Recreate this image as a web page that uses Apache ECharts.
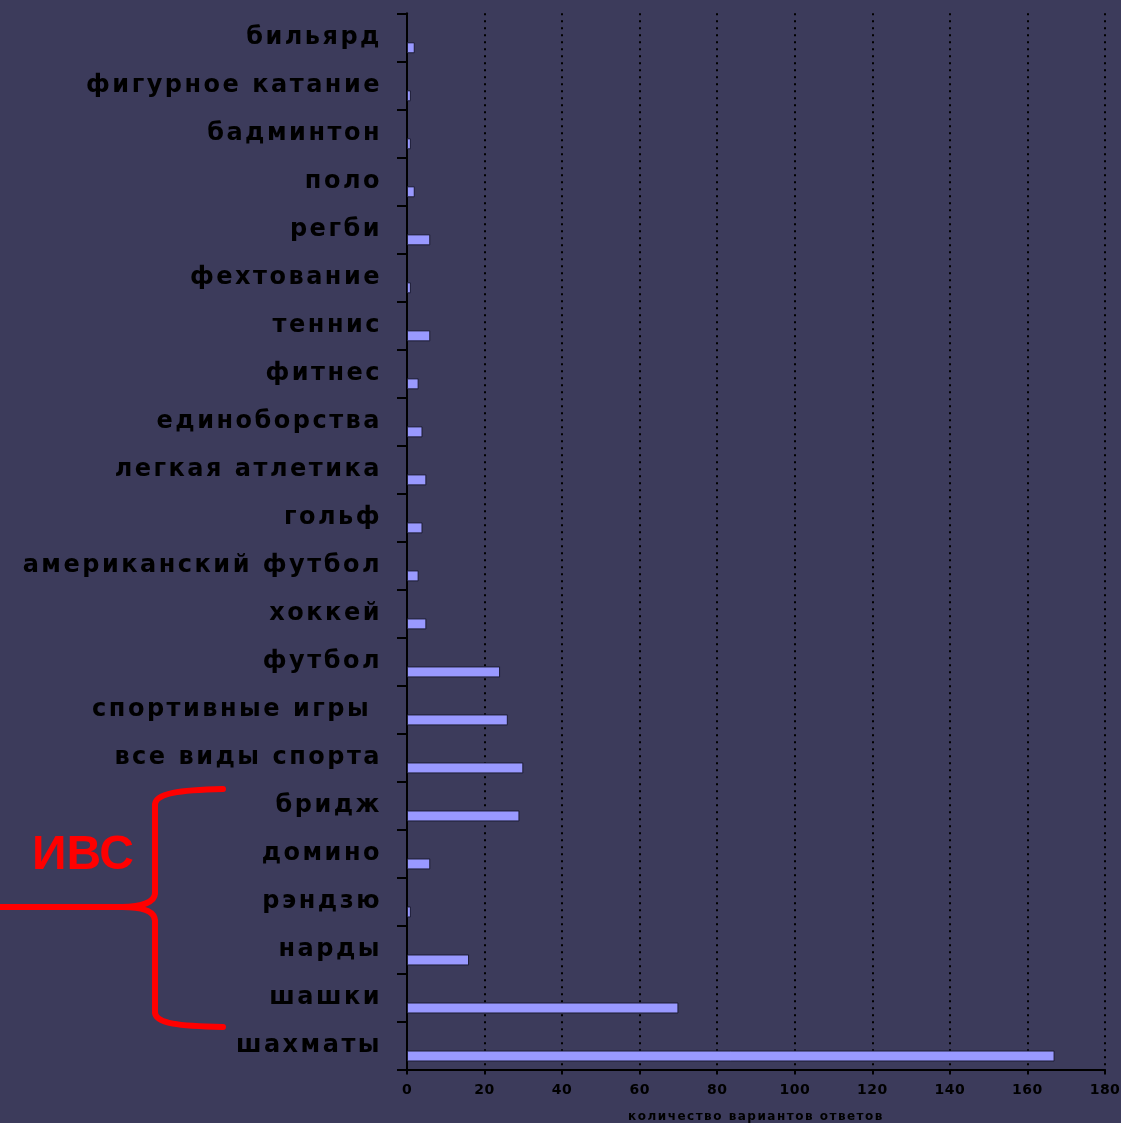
<!DOCTYPE html>
<html>
<head>
<meta charset="utf-8">
<script src="https://cdn.jsdelivr.net/npm/echarts@6/dist/echarts.min.js"></script>
<style>
html,body{margin:0;padding:0;background:#3c3b5b;}
#chart{width:1121px;height:1123px;}
</style>
</head>
<body>
<div id="chart"></div>
<script>
// Data
const categories = ['бильярд','фигурное катание','бадминтон','поло','регби','фехтование','теннис','фитнес','единоборства','легкая атлетика','гольф','американский футбол','хоккей','футбол','спортивные игры ','все виды спорта','бридж','домино','рэндзю','нарды','шашки','шахматы'];
const values = [2,1,1,2,6,1,6,3,4,5,4,3,5,24,26,30,29,6,1,16,70,167];
const xTicks = [0,20,40,60,80,100,120,140,160,180];
const axisTitle = 'количество вариантов ответов';
const groupLabel = 'ИВС';

// letter spacing for wide label text
(function(){
  const orig = CanvasRenderingContext2D.prototype.fillText;
  CanvasRenderingContext2D.prototype.fillText = function(t,x,y,m){
    const f = this.font || '';
    let sp = '0px';
    if (/\b24px/.test(f)) sp = '2.5px';
    else if (/\b12px/.test(f)) sp = '1.5px';
    else if (/\b14px/.test(f)) sp = '0.5px';
    const prev = this.letterSpacing;
    try { this.letterSpacing = sp; } catch(e) {}
    if (m === undefined) orig.call(this,t,x,y); else orig.call(this,t,x,y,m);
    try { this.letterSpacing = prev; } catch(e) {}
  };
})();

const braceStyle = {stroke:'#ff0000', lineWidth:6, lineCap:'round', fill:null};
function bez(x1,y1,cx1,cy1,cx2,cy2,x2,y2){
  return {type:'bezierCurve', silent:true, shape:{x1:x1,y1:y1,cpx1:cx1,cpy1:cy1,cpx2:cx2,cpy2:cy2,x2:x2,y2:y2}, style:braceStyle};
}
function ln(x1,y1,x2,y2){
  return {type:'line', silent:true, shape:{x1:x1,y1:y1,x2:x2,y2:y2}, style:braceStyle};
}

const chart = echarts.init(document.getElementById('chart'), null, {renderer:'canvas'});
const option = {
  backgroundColor: '#3c3b5b',
  animation: false,
  grid: {left: 407, right: 16, top: 13.3, bottom: 53.5, containLabel: false, outerBoundsMode: 'none'},
  xAxis: {
    type: 'value', min: 0, max: 180, interval: 20,
    name: axisTitle, nameLocation: 'middle', nameGap: 41,
    nameTextStyle: {color:'#000', fontFamily:'DejaVu Sans', fontWeight:'bold', fontSize:12},
    axisLine: {show:true, lineStyle:{color:'#000', width:2}},
    axisTick: {show:true, length:5, lineStyle:{color:'#000', width:2}},
    axisLabel: {color:'#000', fontFamily:'DejaVu Sans', fontWeight:'bold', fontSize:14, margin:14,
      formatter: function(v){ return xTicks.indexOf(v) >= 0 ? String(v) : ''; }},
    splitLine: {show:true, lineStyle:{color:'#000', width:2, type:[2,5]}}
  },
  yAxis: {
    type: 'category', data: categories, inverse: true,
    axisLine: {show:true, lineStyle:{color:'#000', width:2}},
    axisTick: {show:true, length:10, inside:false, lineStyle:{color:'#000', width:2}},
    axisLabel: {interval:0, color:'#000', fontFamily:'DejaVu Sans', fontWeight:'bold', fontSize:24, margin:25, padding:[7,0,0,0]},
    splitLine: {show:false}
  },
  series: [
    {type:'bar', data: categories.map(function(){ return '-'; }), barWidth: 11, barGap: '91%', silent:true},
    {type:'bar', data: values, barWidth: 11, barGap: '91%',
      itemStyle: {color:'#9999ff', borderColor:'#1c1c33', borderWidth:1}}
  ],
  graphic: [
    bez(223,789, 180,790, 155,793, 155,805),
    ln(155,805,155,893),
    bez(155,893, 155,902, 142,907, 122,907),
    ln(122,907,0,907),
    bez(122,907, 142,907, 155,911, 155,921),
    ln(155,921,155,1012),
    bez(155,1012, 155,1024, 180,1026, 223,1027),
    {type:'text', left:32, top:832, silent:true,
      style:{text:groupLabel, fill:'#ff0000', font:'bold 48px "Liberation Sans", Arial, sans-serif'}}
  ]
};
chart.setOption(option);
</script>
</body>
</html>
